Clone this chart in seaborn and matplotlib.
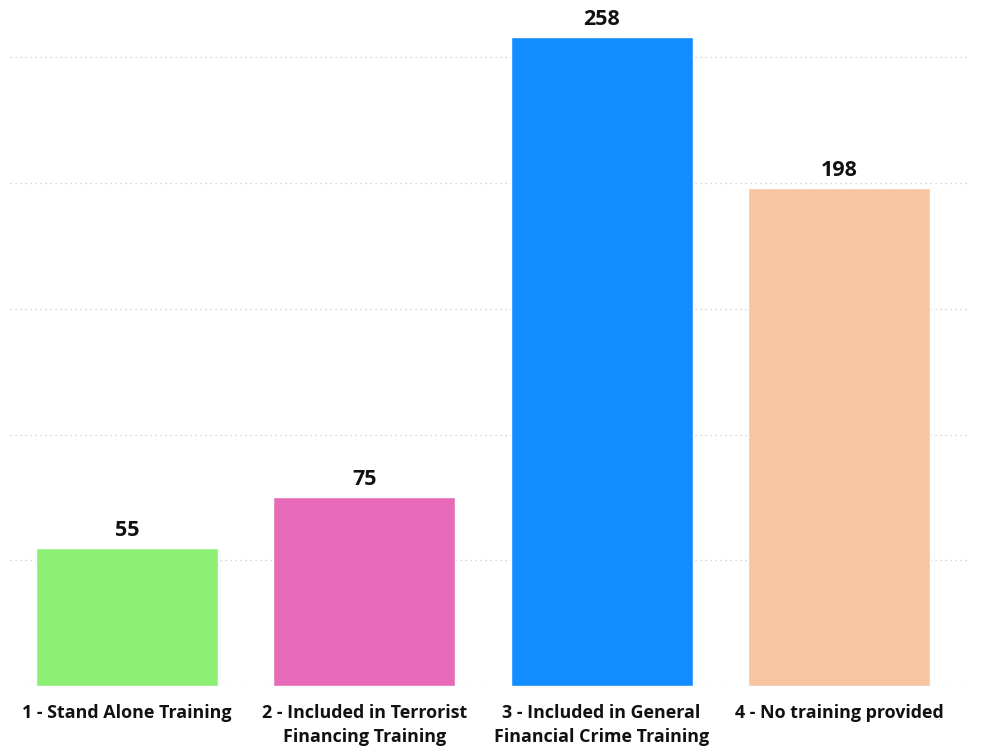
import matplotlib
matplotlib.use("Agg")
import matplotlib.pyplot as plt
import seaborn as sns
import pandas as pd

categories = ["1 - Stand Alone Training",
              "2 - Included in Terrorist\nFinancing Training",
              "3 - Included in General\nFinancial Crime Training",
              "4 - No training provided"]
values = [55, 75, 258, 198]
colors = ["#8CF075", "#E66AB8", "#118DFF", "#F7C59F"]
grid_ticks = [0, 50, 100, 150, 200, 250]

sns.set_style("white")
plt.rcParams['font.family'] = ['Open Sans', 'DejaVu Sans']

df = pd.DataFrame({"cat": categories, "val": values})

W, H = 981, 751
fig = plt.figure(figsize=(W / 100, H / 100), dpi=100)
ax = fig.add_axes([10 / W, (H - 686) / H, 960 / W, 686 / H])

sns.barplot(data=df, x="cat", y="val", hue="cat", palette=colors,
            width=0.767, legend=False, ax=ax, saturation=1)

ax.set_xlim(-0.493, 3.552)
ax.set_ylim(0, 272.8)
ax.set_yticks(grid_ticks)
ax.set_yticklabels([])
ax.tick_params(axis='y', length=0)
ax.tick_params(axis='x', length=0, pad=13)
for t in grid_ticks:
    ax.axhline(t, color="#c8c8c8", linestyle=(0, (1, 3)), linewidth=0.9, zorder=0)
ax.set_axisbelow(True)
for s in ax.spines.values():
    s.set_visible(False)
ax.set_xlabel("")
ax.set_ylabel("")
for lbl in ax.get_xticklabels():
    lbl.set_fontsize(12.9)
    lbl.set_fontweight("bold")
    lbl.set_color("#111111")
    lbl.set_linespacing(1.45)

for i, v in enumerate(values):
    ax.annotate(str(v), (i, v), xytext=(0, 5), textcoords="offset points",
                ha="center", va="bottom", fontsize=15.5, fontweight="bold",
                color="#111111", annotation_clip=False)

fig.savefig("out.png", dpi=100)
